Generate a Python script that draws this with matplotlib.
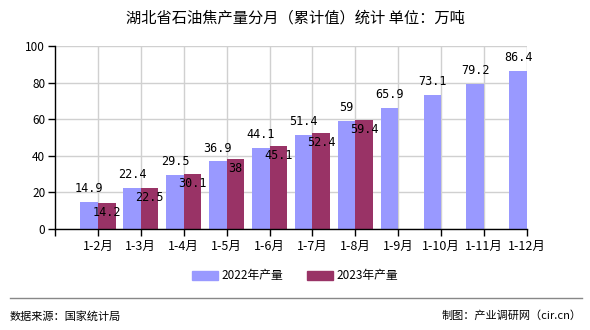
import matplotlib
matplotlib.use("Agg")
import matplotlib.pyplot as plt
from matplotlib.patches import Patch
from matplotlib.lines import Line2D

plt.rcParams['font.family'] = ['Noto Sans CJK SC', 'DejaVu Sans']

categories = ["1-2月", "1-3月", "1-4月", "1-5月", "1-6月", "1-7月", "1-8月",
              "1-9月", "1-10月", "1-11月", "1-12月"]
values_2022 = [14.9, 22.4, 29.5, 36.9, 44.1, 51.4, 59, 65.9, 73.1, 79.2, 86.4]
values_2023 = [14.2, 22.5, 30.1, 38, 45.1, 52.4, 59.4]
series_names = ["2022年产量", "2023年产量"]
title = "湖北省石油焦产量分月（累计值）统计 单位：万吨"
source = "数据来源：国家统计局"
maker = "制图：产业调研网（cir.cn）"

c22 = "#9999FF"
c23 = "#993366"

fig = plt.figure(figsize=(5.9, 3.3), dpi=100)
ax = fig.add_axes([55/590, 1-229/330, (527-55)/590, (229-46)/330])

w = 0.41
pos = list(range(1, len(categories) + 1))
x22 = [p - w/2 for p in pos]
x23 = [p + w/2 for p in pos[:len(values_2023)]]
ax.bar(x22, values_2022, width=w, color=c22, zorder=2)
ax.bar(x23, values_2023, width=w, color=c23, zorder=2)

for x, v in zip(x22, values_2022):
    ax.annotate(f"{v:g}", (x, v), xytext=(0, 5), textcoords="offset points",
                ha="center", va="bottom", fontsize=8.5, family="DejaVu Sans Mono", zorder=3)
for x, v in zip(x23, values_2023):
    ax.annotate(f"{v:g}", (x, v), xytext=(0, -2), textcoords="offset points",
                ha="center", va="top", fontsize=8.5, family="DejaVu Sans Mono", zorder=3)

ax.set_xlim(0, len(categories))
ax.set_ylim(0, 100)
ax.set_xticks(pos)
ax.set_xticklabels(categories, fontsize=9)
ax.set_xticks([0], minor=True)
ax.set_yticks([0, 20, 40, 60, 80, 100])
ax.tick_params(axis='y', labelsize=8.5, length=5, width=1, direction='out', pad=2)
ax.tick_params(axis='x', which='both', length=5, width=1, direction='out', pad=3)
ax.grid(True, color="#d0d0d0", linewidth=1, zorder=0)
for s in ["top", "right"]:
    ax.spines[s].set_visible(False)
for s in ["left", "bottom"]:
    ax.spines[s].set_color("black")
    ax.spines[s].set_linewidth(1)

fig.text(0.5, 1-18/330, title, ha="center", va="center", fontsize=11)

handles = [Patch(color=c22), Patch(color=c23)]
fig.legend(handles, series_names, loc="center", bbox_to_anchor=(0.5, 1-276/330),
           ncol=2, frameon=False, fontsize=8.5, handlelength=2.2, handleheight=0.9,
           columnspacing=2.0, handletextpad=0.3)

fig.add_artist(Line2D([10/590, 582/590], [1-298/330, 1-298/330], color="#888888", linewidth=1))
fig.text(10/590, 1-316/330, source, ha="left", va="center", fontsize=8)
fig.text(582/590, 1-316/330, maker, ha="right", va="center", fontsize=8)

fig.savefig("out.png", dpi=100)
